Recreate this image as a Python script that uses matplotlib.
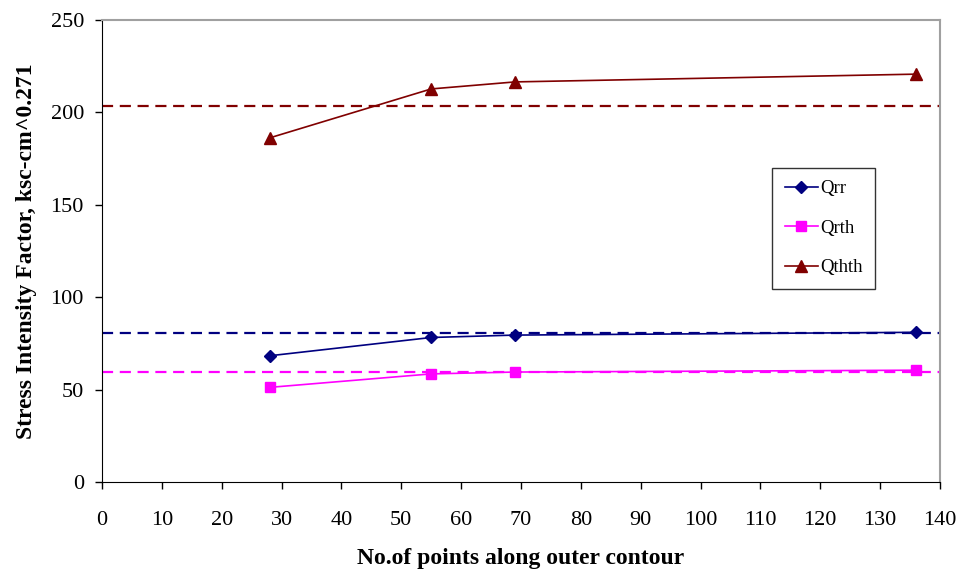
import matplotlib
matplotlib.use("Agg")
import matplotlib.pyplot as plt

x_points = [28, 55, 69, 136]
qrr = [68.3, 78.2, 79.5, 81.0]
qrth = [51.2, 58.5, 59.5, 60.5]
qthth = [186.2, 212.7, 216.5, 220.7]
ref_qrr = 80.8
ref_qrth = 59.3
ref_qthth = 203.7

plt.rcParams['font.family'] = ['Liberation Serif', 'DejaVu Serif']

fig = plt.figure(figsize=(9.63, 5.75), dpi=100)
ax = fig.add_axes([102/963, 1-482/575, 838/963, 462/575])

navy = '#000080'
mag = '#FF00FF'
dred = '#800000'

ax.axhline(ref_qthth, color=dred, lw=1.6, ls=(0, (5, 3)))
ax.axhline(ref_qrr, color=navy, lw=1.6, ls=(0, (5, 3)))
ax.axhline(ref_qrth, color=mag, lw=1.6, ls=(0, (5, 3)))

ax.plot(x_points, qrr, color=navy, marker='D', ms=6, lw=1.2, label='Qrr')
ax.plot(x_points, qrth, color=mag, marker='s', ms=7, lw=1.2, label='Qrth')
ax.plot(x_points, qthth, color=dred, marker='^', ms=8, lw=1.2, label='Qthth')

ax.set_xlim(0, 140)
ax.set_ylim(0, 250)
ax.set_xticks(range(0, 141, 10))
ax.set_yticks(range(0, 251, 50))
ax.tick_params(direction='out', length=5, labelsize=16, width=1)
ax.tick_params(axis='x', pad=16)
ax.tick_params(axis='y', pad=8)
for s in ['top', 'right']:
    ax.spines[s].set_color('#A0A0A0')
    ax.spines[s].set_linewidth(1.5)
for s in ['left', 'bottom']:
    ax.spines[s].set_color('black')

ax.set_xlabel('No.of points along outer contour', fontsize=17, fontweight='bold', labelpad=13)
ax.set_ylabel('Stress Intensity Factor, ksc-cm^0.271', fontsize=17, fontweight='bold', labelpad=10)

leg = ax.legend(loc='upper left', bbox_to_anchor=(0.80, 0.68), borderaxespad=0, frameon=True,
                fancybox=False, edgecolor='black', fontsize=13.5, labelspacing=1.2,
                handlelength=1.8, borderpad=0.65, handletextpad=0.1)
leg.get_frame().set_linewidth(1.0)

fig.savefig('out.png', dpi=100)
